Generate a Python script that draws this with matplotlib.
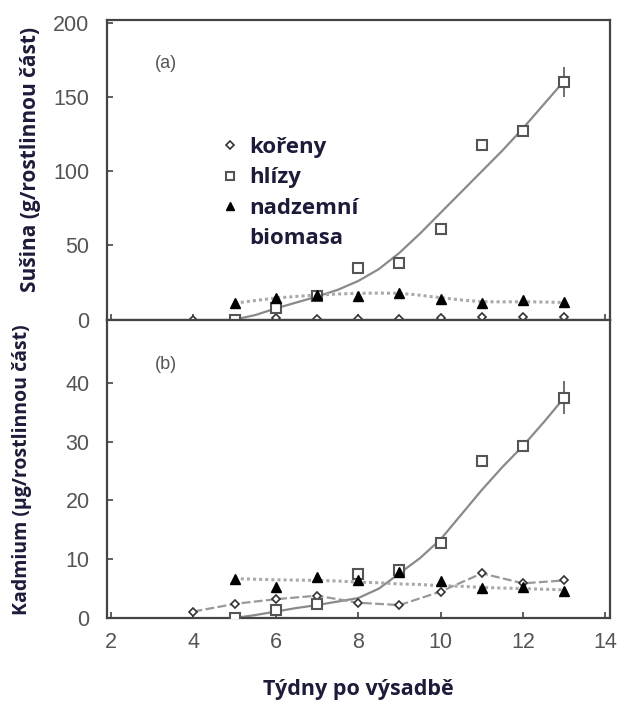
import numpy as np
import matplotlib
matplotlib.use("Agg")
import matplotlib.pyplot as plt
from matplotlib.lines import Line2D

# weeks after planting
weeks_roots = [4, 5, 6, 7, 8, 9, 10, 11, 12, 13]
weeks = [5, 6, 7, 8, 9, 10, 11, 12, 13]

# (a) dry matter, g per plant part
dm_roots = [0, 0, 1, 0.5, 0.5, 0.5, 1, 2, 2, 2]
dm_tubers = [0, 8, 16, 35, 38, 61, 118, 127, 160]
dm_tubers_err = [0, 0, 0, 0, 0, 0, 0, 0, 10]
dm_shoots = [11, 14.5, 16.5, 16, 18, 14, 11, 13, 12]

# fitted curves
fit_weeks = [5, 5.5, 6, 6.5, 7, 7.5, 8, 8.5, 9, 9.5, 10, 10.5, 11, 11.5, 12, 12.5, 13]
dm_tubers_fit = [0, 3, 7.5, 11.5, 15.5, 20, 26, 34, 45, 58, 72, 86, 100, 114, 129, 145, 161]
dm_shoots_fit = [11, 12.8, 14.5, 15.6, 16.5, 17.2, 17.7, 17.8, 17.7, 16.4, 14.7, 13.2, 12, 11.9, 12, 11.8, 11.5]

# (b) cadmium, ug per plant part
cd_roots = [1.1, 2.4, 3.2, 3.8, 2.6, 2.2, 4.5, 7.6, 5.9, 6.4]
cd_tubers = [0, 1.3, 2.3, 7.5, 8.1, 12.8, 26.8, 29.3, 37.5]
cd_tubers_err = [0, 0, 0, 0, 0, 0, 0, 0, 2.8]
cd_shoots = [6.7, 5.3, 6.9, 6.5, 7.8, 6.3, 5.1, 5.3, 4.6]

cd_tubers_fit = [0, 0.5, 1.1, 1.7, 2.2, 2.8, 3.4, 5.0, 7.6, 10.2, 13.4, 17.6, 21.8, 25.7, 29.3, 33.3, 37.5]
cd_shoots_fit = [6.7, 6.6, 6.5, 6.45, 6.4, 6.3, 6.1, 6.0, 5.8, 5.7, 5.5, 5.4, 5.2, 5.1, 5.0, 4.9, 4.8]

navy = "#1c1c3a"
gray = "#555555"
tick_font = "Liberation Sans"
label_font = "Open Sans"

fig = plt.figure(figsize=(6.22, 7.01), dpi=100)
ax1 = fig.add_axes([0.172, 0.5442, 0.808, 0.4273])
ax2 = fig.add_axes([0.172, 0.1184, 0.808, 0.4258])

for ax in (ax1, ax2):
    for s in ax.spines.values():
        s.set_color("#444444")
        s.set_linewidth(1.6)
    ax.tick_params(direction="in", length=4, width=1.2, color="#444444",
                   labelsize=15.5, labelcolor=gray)
    ax.tick_params(axis="y", pad=12.5)
    ax.tick_params(axis="x", pad=10)
    for lab in ax.get_xticklabels() + ax.get_yticklabels():
        lab.set_fontfamily(tick_font)
    ax.set_xlim(1.9, 14.1)
    ax.set_xticks([2, 4, 6, 8, 10, 12, 14])

# ---- (a)
ax1.plot(fit_weeks, dm_tubers_fit, color="#8a8a8a", lw=1.6, zorder=2)
ax1.plot(fit_weeks, dm_shoots_fit, color="#aaaaaa", lw=2.2, ls=(0, (1, 1)), zorder=2)
ax1.errorbar(weeks, dm_tubers, yerr=dm_tubers_err, fmt="none", ecolor="#666666",
             elinewidth=1.3, capsize=0, zorder=3)
ax1.plot(weeks_roots, dm_roots, ls="none", marker="D", ms=4.5, mfc="white",
         mec="#333333", mew=1.2, zorder=4)
ax1.plot(weeks, dm_tubers, ls="none", marker="s", ms=7, mfc="white",
         mec="#555555", mew=1.5, zorder=5)
ax1.plot(weeks, dm_shoots, ls="none", marker="^", ms=7, color="black", zorder=5)
ax1.set_ylim(0, 202)
ax1.set_yticks([0, 50, 100, 150, 200])
ax1.tick_params(labelbottom=False)
ax1.text(0.118, 0.856, "(a)", transform=ax1.transAxes, ha="center", va="center",
         fontsize=13, color=gray, family=tick_font)
ax1.set_ylabel("Sušina (g/rostlinnou část)", family=label_font, fontweight="bold",
               fontsize=15, color=navy)
ax1.yaxis.set_label_coords(-0.131, 0.535)

handles = [
    Line2D([], [], ls="none", marker="D", ms=4.5, mfc="white", mec="#333333", mew=1.2),
    Line2D([], [], ls="none", marker="s", ms=6, mfc="white", mec="#555555", mew=1.5),
    Line2D([], [], ls="none", marker="^", ms=6, color="black"),
    Line2D([], [], ls="none"),
]
ax1.legend(handles, ["kořeny", "hlízy", "nadzemní", "biomasa"], loc="upper left",
           bbox_to_anchor=(0.228, 0.61), frameon=False, borderaxespad=0, borderpad=0,
           handlelength=0.8, handletextpad=0.45, labelspacing=0.43,
           prop={"family": label_font, "weight": "bold", "size": 16},
           labelcolor=navy)

# ---- (b)
ax2.plot(fit_weeks, cd_tubers_fit, color="#8a8a8a", lw=1.6, zorder=2)
ax2.plot(fit_weeks, cd_shoots_fit, color="#aaaaaa", lw=2.2, ls=(0, (1, 1)), zorder=2)
ax2.plot(weeks_roots, cd_roots, color="#999999", lw=1.6, ls=(0, (4, 1.5)), zorder=2)
ax2.errorbar(weeks, cd_tubers, yerr=cd_tubers_err, fmt="none", ecolor="#666666",
             elinewidth=1.3, capsize=0, zorder=3)
ax2.plot(weeks_roots, cd_roots, ls="none", marker="D", ms=4.5, mfc="white",
         mec="#333333", mew=1.2, zorder=4)
ax2.plot(weeks, cd_tubers, ls="none", marker="s", ms=7, mfc="white",
         mec="#555555", mew=1.5, zorder=5)
ax2.plot(weeks, cd_shoots, ls="none", marker="^", ms=7, color="black", zorder=5)
ax2.set_ylim(0, 50.8)
ax2.set_yticks([0, 10, 20, 30, 40])
ax2.text(0.118, 0.85, "(b)", transform=ax2.transAxes, ha="center", va="center",
         fontsize=13, color=gray, family=tick_font)
ax2.set_ylabel("Kadmium (µg/rostlinnou část)", family=label_font, fontweight="bold",
               fontsize=14, color=navy)
ax2.yaxis.set_label_coords(-0.149, 0.496)
ax2.set_xlabel("Týdny po výsadbě", family=label_font, fontweight="bold",
               fontsize=15.5, color=navy, va="center")
ax2.xaxis.set_label_coords(0.5, -0.241)

fig.savefig("out.png", dpi=100)
